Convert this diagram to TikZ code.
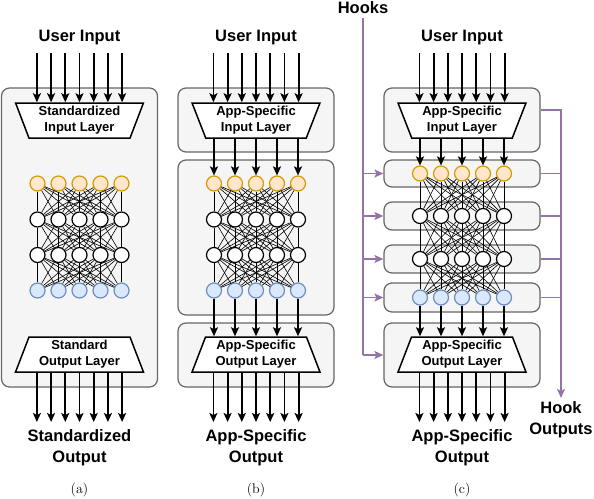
\documentclass[tikz,border=0pt]{standalone}
\usepackage{fontspec}
\newfontfamily\diagfont{Liberation Sans}
\usetikzlibrary{shapes.geometric,arrows.meta,positioning}
\definecolor{boxfill}{HTML}{F5F5F5}
\definecolor{boxline}{HTML}{666666}
\definecolor{hookpurple}{HTML}{9673A6}
\definecolor{infill}{HTML}{FFE6CC}
\definecolor{inborder}{HTML}{D79B00}
\definecolor{outfill}{HTML}{DAE8FC}
\definecolor{outborder}{HTML}{6C8EBF}
\tikzset{
  panelbox/.style={draw=boxline, fill=boxfill, line width=1.2pt, rounded corners=8pt,
    inner sep=0pt, minimum width=156pt},
  layerbox/.style={trapezium, draw, fill=white, line width=1.5pt, trapezium angle=69,
    trapezium stretches=true, minimum width=128pt, minimum height=35pt, inner sep=0pt,
    align=center, font=\diagfont\bfseries\fontsize{13}{16}\selectfont},
  neuron/.style={circle, draw, fill=white, line width=1.2pt, minimum size=15pt, inner sep=0pt},
  inneuron/.style={neuron, draw=inborder, fill=infill},
  outneuron/.style={neuron, draw=outborder, fill=outfill},
  link/.style={line width=0.6pt},
  flowarrow/.style={line width=1.8pt, -{Stealth[length=9pt,width=8pt,inset=2pt]}},
  hookline/.style={draw=hookpurple, line width=1.5pt},
  hookarrow/.style={hookline, -{Stealth[length=9pt,width=8pt,inset=2pt]}},
  title/.style={font=\diagfont\bfseries\fontsize{16.5}{21}\selectfont, align=center, inner sep=0pt},
  caption/.style={font=\fontsize{14}{16}\selectfont}
}
\begin{document}
\begin{tikzpicture}[x=1pt,y=-1pt]
\useasboundingbox (0,0) rectangle (594,498);

% boxes
\node[panelbox, minimum height=299pt] (a-box) at (79.5,237.5) {};
\node[panelbox, minimum height=64pt] (b-box1) at (256,120) {};
\node[panelbox, minimum height=155pt] (b-box2) at (256,237.5) {};
\node[panelbox, minimum height=64pt] (b-box3) at (256,355) {};
\node[panelbox, minimum height=64pt] (c-box1) at (462,120) {};
\node[panelbox, minimum height=27pt] (c-box2) at (462,173.5) {};
\node[panelbox, minimum height=28pt] (c-box3) at (462,216) {};
\node[panelbox, minimum height=28pt] (c-box4) at (462,259) {};
\node[panelbox, minimum height=29pt] (c-box5) at (462,297.5) {};
\node[panelbox, minimum height=64pt] (c-box6) at (462,355) {};

% layers
\node[layerbox, shape border rotate=180] (a-inlayer) at (79.5,120.5) {Standardized\\Input Layer};
\node[layerbox] (a-outlayer) at (79.5,354.5) {Standard\\Output Layer};
\node[layerbox, shape border rotate=180] (b-inlayer) at (256,120.5) {App-Specific\\Input Layer};
\node[layerbox] (b-outlayer) at (256,354.5) {App-Specific\\Output Layer};
\node[layerbox, shape border rotate=180] (c-inlayer) at (462,120.5) {App-Specific\\Input Layer};
\node[layerbox] (c-outlayer) at (462,354.5) {App-Specific\\Output Layer};

% neurons
\foreach \p/\cx/\ya/\yb/\yc/\yd in {a/79.5/183.5/219.5/255/290.5, b/256/183.5/219.5/255/290.5, c/462/173.5/216/259/297.5}
  {
    \foreach \i in {1,...,5}
      {
        \node[inneuron] (\p-1-\i) at ({\cx+21*(\i-3)},\ya) {};
        \node[neuron] (\p-2-\i) at ({\cx+21*(\i-3)},\yb) {};
        \node[neuron] (\p-3-\i) at ({\cx+21*(\i-3)},\yc) {};
        \node[outneuron] (\p-4-\i) at ({\cx+21*(\i-3)},\yd) {};
      }
    \foreach \r/\s in {1/2,2/3,3/4}
      \foreach \i in {1,...,5}
        \foreach \j in {1,...,5}
          \draw[link] (\p-\r-\i) -- (\p-\s-\j);
  }

% inputs and outputs
\foreach \p/\cx in {a/79.5, b/256, c/462}
  {
    \foreach \j in {1,...,7}
      {
        \coordinate (\p-in-\j) at ({\cx+14.2*(\j-4)},53);
        \coordinate (\p-out-\j) at ({\cx+14.2*(\j-4)},422);
        \draw[flowarrow] (\p-in-\j) -- (\p-in-\j |- \p-inlayer.north);
        \draw[flowarrow] (\p-out-\j |- \p-outlayer.south) -- (\p-out-\j);
      }
    \node[title, anchor=base] (\p-title) at (\cx,41) {User Input};
  }
\foreach \p in {b,c}
  \foreach \i in {1,...,5}
    {
      \draw[flowarrow] (\p-1-\i |- \p-inlayer.south) -- (\p-1-\i);
      \draw[flowarrow] (\p-4-\i) -- (\p-4-\i |- \p-outlayer.north);
    }

% hooks
\coordinate (hook-top) at (363,18);
\coordinate (hookout-end) at (561,398);
\draw[hookline] (hook-top) -- (hook-top |- c-box6.west);
\foreach \k in {2,...,6}
  \draw[hookarrow] (hook-top |- c-box\k.west) -- (c-box\k.west);
\draw[hookarrow] ([yshift=10pt]c-box1.east) -| (hookout-end);
\foreach \k in {2,...,5}
  \draw[hookline] (c-box\k.east) -- (c-box\k.east -| hookout-end);
\node[title, anchor=base] (hooks) at (363,13) {Hooks};
\node[title, anchor=north] (hook-outputs) at (561,401) {Hook\\Outputs};

% labels
\node[title, anchor=north] (a-result) at (79.5,429.5) {Standardized\\Output};
\node[title, anchor=north] (b-result) at (256,429.5) {App-Specific\\Output};
\node[title, anchor=north] (c-result) at (462,429.5) {App-Specific\\Output};
\node[caption] (a-caption) at (79.5,490) {(a)};
\node[caption] (b-caption) at (256,490) {(b)};
\node[caption] (c-caption) at (462,490) {(c)};

\end{tikzpicture}
\end{document}
